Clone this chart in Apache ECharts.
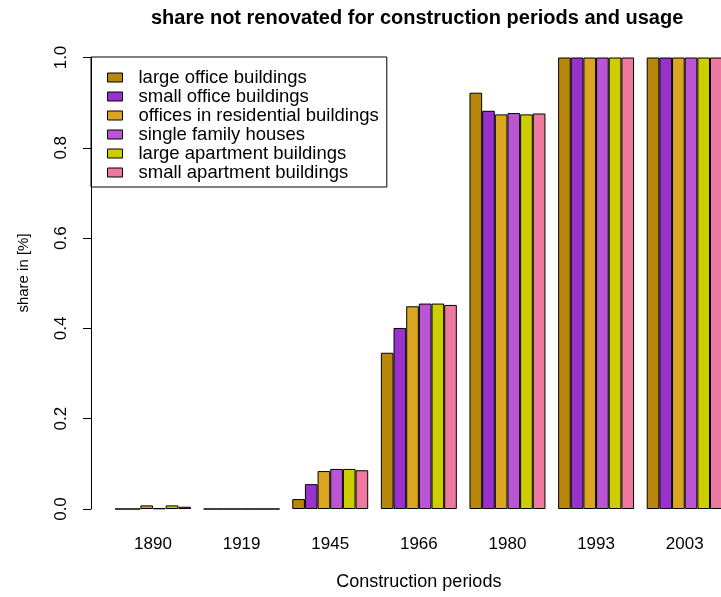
<!DOCTYPE html>
<html>
<head>
<meta charset="utf-8">
<title>share not renovated for construction periods and usage</title>
<script src="https://cdn.jsdelivr.net/npm/echarts@6/dist/echarts.min.js"></script>
<style>
  html, body { margin: 0; padding: 0; background: #ffffff; }
  #chart { width: 721px; height: 597px; }
</style>
</head>
<body>
<div id="chart"></div>
<script>
  // construction periods (x axis categories)
  const periods = ['1890', '1919', '1945', '1966', '1980', '1993', '2003']

  // share not renovated, one array per usage type
  const largeOffice = [0, 0, 0.022, 0.346, 0.922, 1, 1]
  const smallOffice = [0, 0, 0.055, 0.401, 0.882, 1, 1]
  const officesResidential = [0.008, 0, 0.084, 0.449, 0.874, 1, 1]
  const singleFamily = [0.0015, 0, 0.0887, 0.455, 0.877, 1, 1]
  const largeApartment = [0.008, 0, 0.0887, 0.455, 0.874, 1, 1]
  const smallApartment = [0.005, 0, 0.0858, 0.452, 0.876, 1, 1]

  const seriesNames = [
    'large office buildings',
    'small office buildings',
    'offices in residential buildings',
    'single family houses',
    'large apartment buildings',
    'small apartment buildings'
  ]
  const seriesData = [largeOffice, smallOffice, officesResidential, singleFamily, largeApartment, smallApartment]

  // R colours: darkgoldenrod, darkorchid, goldenrod, mediumorchid, yellow3, palevioletred2
  const palette = ['#B8860B', '#9932CC', '#DAA520', '#BA55D3', '#CDCD00', '#EE799F']

  const yTicks = [0, 0.2, 0.4, 0.6, 0.8, 1.0]

  const font = "'Liberation Sans', Arial, sans-serif"

  const chart = echarts.init(document.getElementById('chart'), null, { renderer: 'canvas' })

  chart.setOption({
    animation: false,
    backgroundColor: '#ffffff',
    textStyle: { fontFamily: font, color: '#000' },
    title: {
      text: 'share not renovated for construction periods and usage',
      left: 151,
      top: 8,
      padding: 0,
      textStyle: { fontFamily: font, fontSize: 20, fontWeight: 'bold', color: '#000' }
    },
    legend: {
      orient: 'vertical',
      left: 91,
      top: 57,
      padding: [11, 8, 5, 16],
      itemGap: 0,
      itemWidth: 15,
      itemHeight: 9,
      borderColor: '#000',
      borderWidth: 1,
      borderRadius: 0,
      icon: 'rect',
      itemStyle: { borderColor: '#000', borderWidth: 1 },
      textStyle: { fontFamily: font, fontSize: 18.5, color: '#000', lineHeight: 18.7, padding: [0, 0, 0, 11] },
      data: seriesNames
    },
    grid: {
      left: 108.7,
      width: 620.3,
      top: 57.5,
      height: 451.5,
      outerBoundsMode: 'none'
    },
    xAxis: {
      type: 'category',
      data: periods,
      name: 'Construction periods',
      nameLocation: 'middle',
      nameGap: 64,
      nameTextStyle: { fontFamily: font, fontSize: 18, color: '#000' },
      axisLine: { show: false },
      axisTick: { show: false },
      axisLabel: { fontFamily: font, fontSize: 17, color: '#000', margin: 27 },
      splitLine: { show: false }
    },
    yAxis: {
      type: 'value',
      min: 0,
      max: 1,
      interval: 0.2,
      offset: 17.7,
      name: 'share in [%]',
      nameLocation: 'middle',
      nameRotate: 90,
      nameGap: 60,
      nameTextStyle: { fontFamily: font, fontSize: 15, color: '#000', padding: [0, 0, 0, 20.5] },
      axisLine: { show: true, lineStyle: { color: '#000', width: 1 } },
      axisTick: { show: true, inside: false, length: 8, lineStyle: { color: '#000' } },
      axisLabel: {
        rotate: 90,
        margin: 21,
        fontFamily: font,
        fontSize: 17,
        color: '#000',
        formatter: (v) => (yTicks.includes(Math.round(v * 10) / 10) ? v.toFixed(1) : '')
      },
      splitLine: { show: false }
    },
    series: seriesNames.map((name, i) => ({
      name,
      type: 'bar',
      data: seriesData[i],
      barGap: '0%',
      barCategoryGap: '14.2857%',
      itemStyle: { color: palette[i], borderColor: '#000', borderWidth: 1 }
    }))
  })
</script>
</body>
</html>
